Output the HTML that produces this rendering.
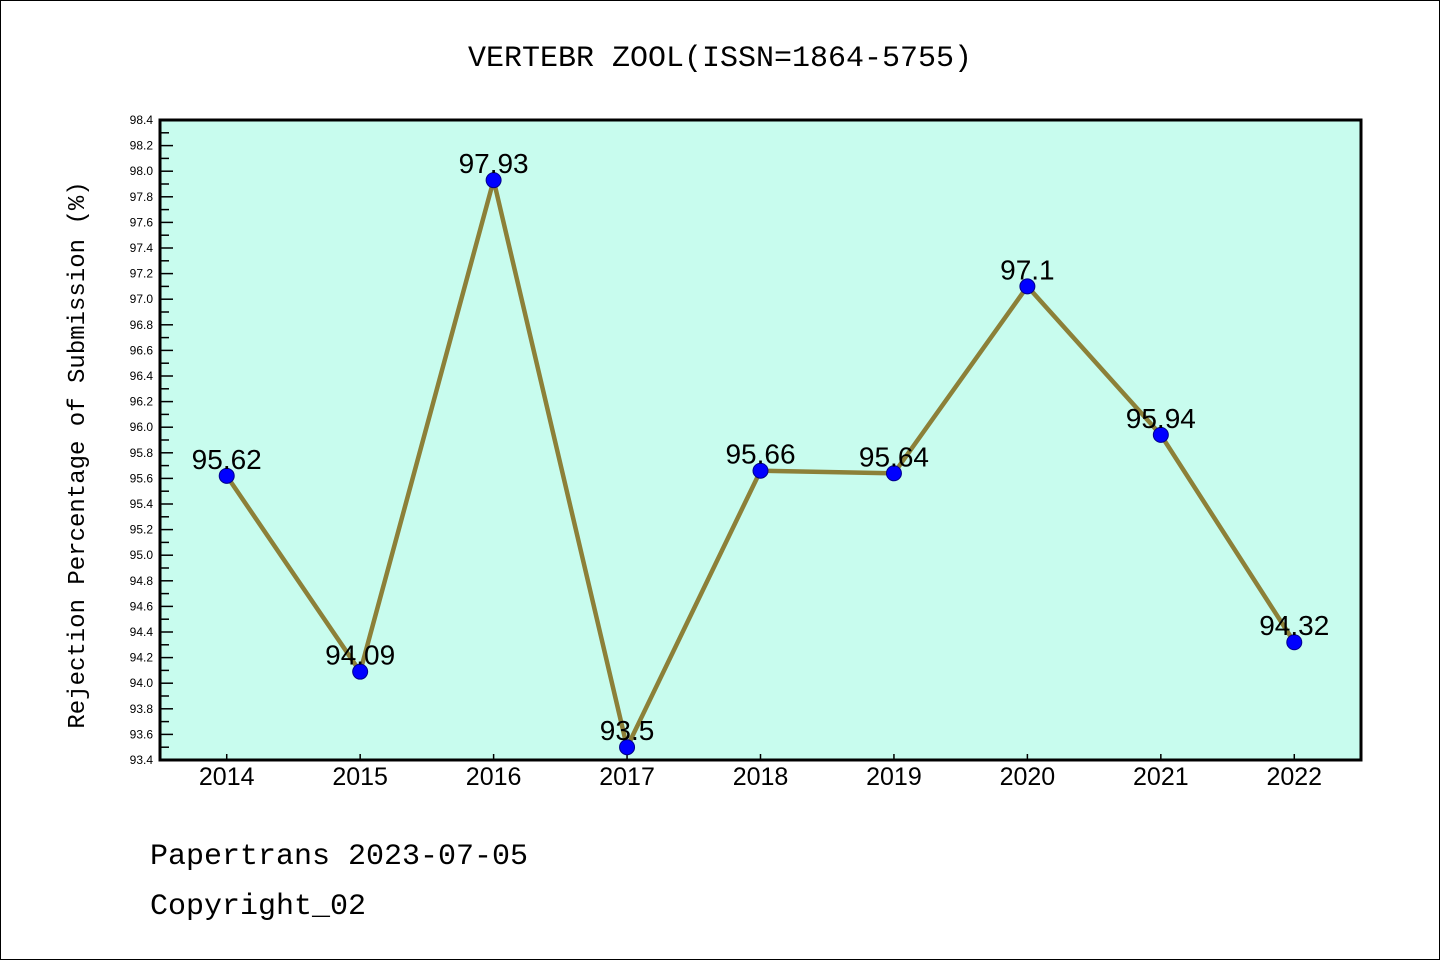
<!DOCTYPE html>
<html><head><meta charset="utf-8"><style>
body{margin:0;background:#fff}
svg{display:block;font-family:"Liberation Sans","DejaVu Sans",sans-serif}
.mono{font-family:"Liberation Mono","DejaVu Sans Mono",monospace}
</style></head><body>
<svg id="chart" width="1440" height="960">
<rect x="0.5" y="0.5" width="1439" height="959" fill="#fff" stroke="#000"/>
<text x="720" y="66" font-size="30" text-anchor="middle" class="mono">VERTEBR ZOOL(ISSN=1864-5755)</text>
<rect x="160" y="120" width="1201" height="640" fill="#c8fcee"/>
<g id="yticks"></g><g id="xticks"></g><g id="series"></g>
<rect x="160" y="120" width="1201" height="640" fill="none" stroke="#000" stroke-width="3"/>
<text transform="translate(84,455) rotate(-90)" font-size="24" text-anchor="middle" class="mono">Rejection Percentage of Submission (%)</text>
<text x="150" y="864" font-size="30" class="mono">Papertrans 2023-07-05</text>
<text x="150" y="914" font-size="30" class="mono">Copyright_02</text>
</svg>
<script>
const categories=["2014","2015","2016","2017","2018","2019","2020","2021","2022"];
const values=[95.62,94.09,97.93,93.5,95.66,95.64,97.1,95.94,94.32];
const valueLabels=["95.62","94.09","97.93","93.5","95.66","95.64","97.1","95.94","94.32"];
const yMin=93.4,yMax=98.4;
const NS="http://www.w3.org/2000/svg";
const L=160,R=1361,T=120,B=760;
const band=(R-L)/categories.length;
function xs(i){return L+band*(i+0.5);}
function ys(v){return B-(v-yMin)/(yMax-yMin)*(B-T);}
function mk(t,a,p){const e=document.createElementNS(NS,t);for(const k in a)e.setAttribute(k,a[k]);p.appendChild(e);return e;}
const yt=document.getElementById('yticks');
for(let k=0;k<=50;k++){
  const v=yMin+k*0.1,y=ys(v),major=k%2===0;
  const l=mk('line',{x1:L,x2:L+(major?13:9),y1:y,y2:y,stroke:'#000','stroke-width':1.5},yt);
  
  
  if(major){const t=mk('text',{x:153,y:y+4,'font-size':12,'text-anchor':'end'},yt);t.textContent=v.toFixed(1);
  
  }
}
const xt=document.getElementById('xticks');
categories.forEach((c,i)=>{
  const x=xs(i);
  const l=mk('line',{x1:x,x2:x,y1:B,y2:B-6,stroke:'#000','stroke-width':1.5},xt);
  
  
  const t=mk('text',{x:x,y:785,'font-size':25,'text-anchor':'middle'},xt);t.textContent=c;
  
  
});
const s=document.getElementById('series');
const pl=mk('polyline',{points:values.map((v,i)=>xs(i)+','+ys(v)).join(' '),fill:'none',stroke:'#8c8038','stroke-width':4.5},s);


values.forEach((v,i)=>{
  const c=mk('circle',{cx:xs(i),cy:ys(v),r:7.5,fill:'#0000ff',stroke:'#00008b','stroke-width':1},s);
  
  
  const t=mk('text',{x:xs(i),y:ys(v)-7,'font-size':28,'text-anchor':'middle'},s);t.textContent=valueLabels[i];
  
  
});
</script>
</body></html>
